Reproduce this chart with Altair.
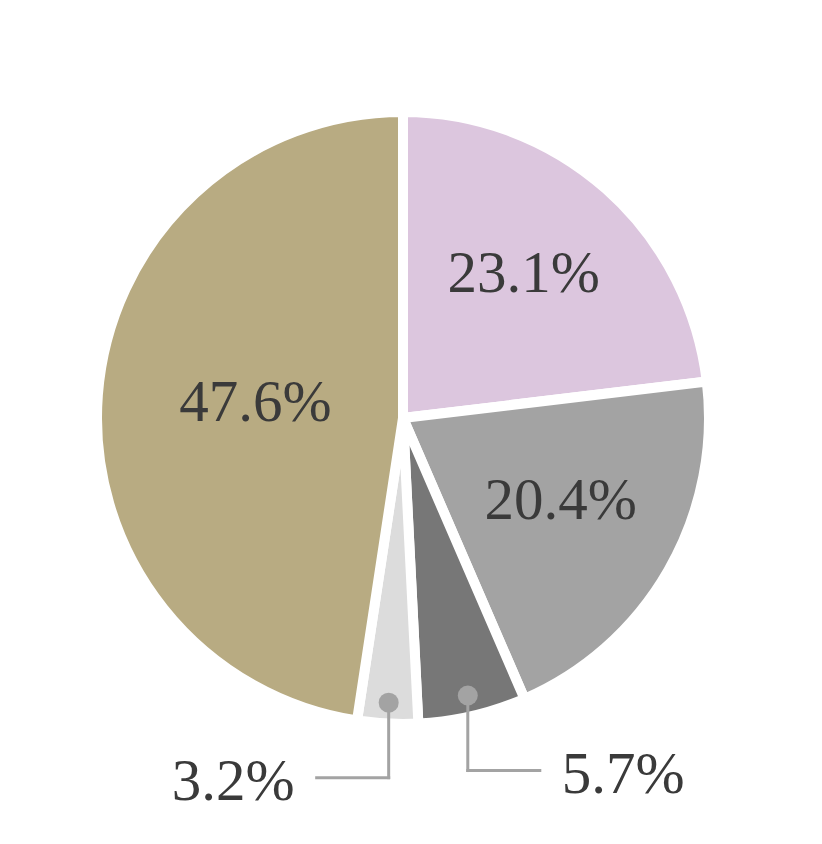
import altair as alt
import pandas as pd

# ---- data ----
categories = ["A", "B", "C", "D", "E"]
values = [23.1, 20.4, 5.7, 3.2, 47.6]
colors = ["#dcc6de", "#a3a3a3", "#777777", "#dcdcdc", "#b8ab82"]

df = pd.DataFrame({"category": categories, "value": values})

# ---- layout constants ----
W, H = 790, 820
R = 306          # outer radius of the pie
RD = 285         # radius of callout dots
DROP = 75        # vertical drop of callout line
LEN = 72         # horizontal length of callout line
GAP = 22         # gap between line end and label
FONT = "Liberation Serif"
FS = 59
TXT = "#3a3a3a"
LINE = "#a3a3a3"

base = alt.Chart(df).transform_window(idx="row_number()")

color = alt.Color("category:N", scale=alt.Scale(domain=categories, range=colors), legend=None)

arcs = base.mark_arc(outerRadius=R, stroke="white", strokeWidth=10).encode(
    theta=alt.Theta("value:Q", stack=True),
    order=alt.Order("idx:Q"),
    color=color,
)

# labels inside medium slices
inner_mid = (
    base.transform_calculate(
        lbl="datum.value >= 10 && datum.value < 40 ? format(datum.value, '.1f') + '%' : ''"
    )
    .mark_text(font=FONT, fontSize=FS, color=TXT, baseline="middle", align="center", radius=182, dy=-8)
    .encode(
        theta=alt.Theta("value:Q", stack=True),
        order=alt.Order("idx:Q"),
        text="lbl:N",
    )
)
# label inside the largest slice
inner_big = (
    base.transform_calculate(lbl="datum.value >= 40 ? format(datum.value, '.1f') + '%' : ''")
    .mark_text(font=FONT, fontSize=FS, color=TXT, baseline="middle", align="center", radius=148, dy=-4)
    .encode(
        theta=alt.Theta("value:Q", stack=True),
        order=alt.Order("idx:Q"),
        text="lbl:N",
    )
)

call = (
    base.transform_joinaggregate(total="sum(value)")
    .transform_window(cum="sum(value)", sort=[alt.SortField("idx")], frame=[None, 0])
    .transform_calculate(ang="2*PI*(datum.cum - datum.value/2)/datum.total")
    .transform_filter("datum.value < 10")
    .transform_calculate(dx=f"{RD}*sin(datum.ang)")
    .transform_calculate(dy=f"-{RD}*cos(datum.ang)")
    .transform_calculate(side="datum.ang > PI ? -1 : 1")
    .transform_calculate(ey=f"datum.dy + {DROP}")
    .transform_calculate(ex=f"datum.dx + datum.side*{LEN}")
    .transform_calculate(tx=f"datum.ex + datum.side*{GAP}")
    .transform_calculate(lbl="format(datum.value, '.1f') + '%'")
)

xs = alt.Scale(domain=[-W / 2, W / 2], nice=False, zero=False)
ys = alt.Scale(domain=[-H / 2, H / 2], nice=False, zero=False, reverse=True)

vrule = call.mark_rule(color=LINE, strokeWidth=3, strokeCap="square").encode(
    x=alt.X("dx:Q", scale=xs, axis=None),
    y=alt.Y("dy:Q", scale=ys, axis=None),
    y2="ey:Q",
)
hrule = call.mark_rule(color=LINE, strokeWidth=3, strokeCap="square").encode(
    x=alt.X("dx:Q", scale=xs, axis=None),
    x2="ex:Q",
    y=alt.Y("ey:Q", scale=ys, axis=None),
)
dots = call.mark_circle(color=LINE, opacity=1, size=400).encode(
    x=alt.X("dx:Q", scale=xs, axis=None),
    y=alt.Y("dy:Q", scale=ys, axis=None),
)
tleft = call.transform_filter("datum.side < 0").mark_text(
    font=FONT, fontSize=FS, color=TXT, align="right", baseline="middle", dy=4
).encode(
    x=alt.X("tx:Q", scale=xs, axis=None),
    y=alt.Y("ey:Q", scale=ys, axis=None),
    text="lbl:N",
)
tright = call.transform_filter("datum.side > 0").mark_text(
    font=FONT, fontSize=FS, color=TXT, align="left", baseline="middle", dy=4
).encode(
    x=alt.X("tx:Q", scale=xs, axis=None),
    y=alt.Y("ey:Q", scale=ys, axis=None),
    text="lbl:N",
)

chart = (
    alt.layer(arcs, inner_mid, inner_big, vrule, hrule, dots, tleft, tright)
    .properties(width=W, height=H, padding=0, autosize=alt.AutoSizeParams(type="none"), background="white")
    .configure_view(stroke=None)
)

chart.save("out.html", embed_options={"renderer": "svg", "actions": False})
